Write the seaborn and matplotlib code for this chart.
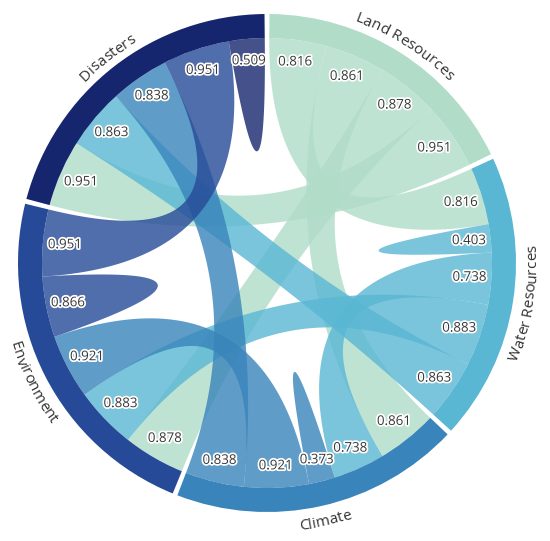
#chord diagram of correlations between resource / hazard groups
import numpy as np
import matplotlib
matplotlib.use("Agg")
import matplotlib.pyplot as plt
import matplotlib.patheffects as pe
from matplotlib.patches import Wedge, Polygon
from matplotlib.font_manager import FontProperties, findfont, get_font
import seaborn as sns

#data: one row per group, columns in the same group order (diagonal = self link)
groups = ["Land Resources", "Water Resources", "Climate", "Environment", "Disasters"]
land = [0, 0.816, 0.861, 0.878, 0.951]
water = [0.816, 0.403, 0.738, 0.883, 0.863]
climate = [0.861, 0.738, 0.373, 0.921, 0.838]
environment = [0.878, 0.883, 0.921, 0.866, 0.951]
disasters = [0.951, 0.863, 0.838, 0.951, 0.509]
colors = ["#b0dcc8", "#59b7d3", "#3884bb", "#264a98", "#16266e"]

sns.set_theme(style="white")
plt.rcParams['font.family'] = ['Open Sans', 'DejaVu Sans']

matrix = np.array([land, water, climate, environment, disasters])
n = len(groups)

W, H = 550, 541
fig = plt.figure(figsize=(5.5, 5.41), dpi=100)
ax = fig.add_axes([0, 0, 1, 1])
ax.set_xlim(0, W)
ax.set_ylim(0, H)
ax.axis('off')

cx, cy = 267, H - 263
r_out, r_in = 249, 225
r_rib = r_in
pad = 0.02
k = (2 * np.pi - n * pad) / matrix.sum()

#layout like d3.chord: groups clockwise from north, subgroups in index order
sub_ang = {}
group_ang = []
a = pad / 2
for i in range(n):
    g0 = a
    for j in range(n):
        w = matrix[i, j] * k
        sub_ang[i, j] = (a, a + w)
        a += w
    group_ang.append((g0, a))
    a += pad


def xy(theta, r):
    return np.array([cx + r * np.sin(theta), cy + r * np.cos(theta)])


def arc(a0, a1, r, m=60):
    t = np.linspace(a0, a1, m)
    return np.column_stack([cx + r * np.sin(t), cy + r * np.cos(t)])


def bez(p0, p2, m=60):
    t = np.linspace(0, 1, m)[:, None]
    c = np.array([cx, cy])
    return (1 - t) ** 2 * p0 + 2 * (1 - t) * t * c + t ** 2 * p2


#ribbons
for i in range(n):
    for j in range(i, n):
        if matrix[i, j] <= 0:
            continue
        s0, s1 = sub_ang[i, j]
        t0, t1 = sub_ang[j, i]
        if i == j:
            pts = np.vstack([arc(s0, s1, r_rib), bez(xy(s1, r_rib), xy(s0, r_rib))])
        else:
            pts = np.vstack([arc(s0, s1, r_rib), bez(xy(s1, r_rib), xy(t0, r_rib)),
                             arc(t0, t1, r_rib), bez(xy(t1, r_rib), xy(s0, r_rib))])
        ax.add_patch(Polygon(pts, closed=True, facecolor=colors[i], alpha=0.8, lw=0))

#outer ring
for i, (g0, g1) in enumerate(group_ang):
    ax.add_patch(Wedge((cx, cy), r_out, 90 - np.degrees(g1), 90 - np.degrees(g0),
                       width=r_out - r_in, facecolor=colors[i], lw=0))

#value labels
halo = [pe.withStroke(linewidth=2.5, foreground="white")]
for (i, j), (s0, s1) in sub_ang.items():
    if matrix[i, j] <= 0:
        continue
    px, py = xy((s0 + s1) / 2, 203)
    ax.text(px, py, f"{matrix[i, j]:.3f}", ha='center', va='center', fontsize=9.6,
            color="#383838", path_effects=halo)

#group names bent along the ring
fsize = 11
fp = FontProperties(family='Open Sans', size=fsize)
font = get_font(findfont(fp))
font.set_size(fsize, 100)


def advance(ch):
    g = font.load_char(ord(ch))
    return g.linearHoriAdvance / 65536


for i, name in enumerate(groups):
    g0, g1 = group_ang[i]
    mid = (g0 + g1) / 2
    flip = np.pi / 2 < mid < 3 * np.pi / 2
    adv = np.array([advance(c) for c in name])
    centers = np.cumsum(adv) - adv / 2 - adv.sum() / 2
    r_base = 269 if flip else 257
    for ch, off in zip(name, centers):
        th = mid - off / r_base if flip else mid + off / r_base
        px, py = xy(th, r_base)
        rot = 180 - np.degrees(th) if flip else -np.degrees(th)
        ax.text(px, py, ch, ha='center', va='baseline', rotation=rot,
                rotation_mode='anchor', fontsize=fsize, color="#333333")

fig.savefig("out.png", dpi=100, facecolor="white")
